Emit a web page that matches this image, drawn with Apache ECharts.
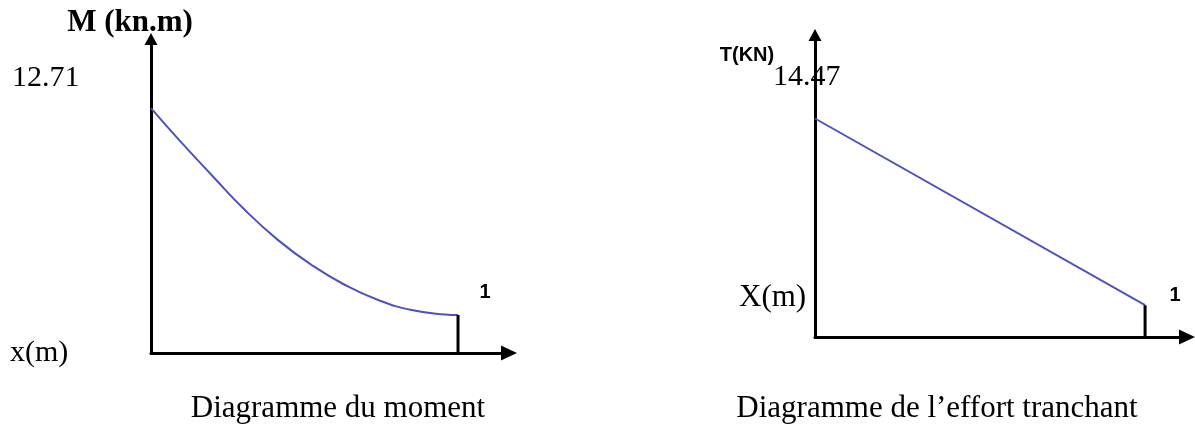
<!DOCTYPE html>
<html>
<head>
<meta charset="utf-8">
<script src="https://cdn.jsdelivr.net/npm/echarts@6/dist/echarts.min.js"></script>
<style>
html,body{margin:0;padding:0;background:#fff;}
#c{width:1195px;height:428px;}
</style>
</head>
<body>
<div id="c"></div>
<script>
// Moment diagram M(x) (kN.m), x in m
var momentX = [0, 0.089, 0.198, 0.306, 0.414, 0.523, 0.632, 0.740, 0.849, 0.958, 1.0];
var momentY = [12.71, 11.10, 9.23, 7.42, 5.86, 4.57, 3.53, 2.75, 2.23, 2.00, 1.97];
// Shear diagram T(x) (kN)
var shearX = [0, 1];
var shearY = [14.47, 2.11];
// Texts
var momentTitle = 'M (kn.m)';
var momentMaxLabel = '12.71';
var momentXLabel = 'x(m)';
var momentCaption = 'Diagramme du moment';
var shearTitle = 'T(KN)';
var shearMaxLabel = '14.47';
var shearXLabel = 'X(m)';
var shearCaption = 'Diagramme de l\u2019effort tranchant';
var endLabel = '1';

function pairs(xs, ys){ return xs.map(function(x,i){ return [x, ys[i]]; }); }

var chart = echarts.init(document.getElementById('c'), null, {renderer:'canvas'});
var axisLine = {show:true, lineStyle:{color:'#000', width:3}, symbol:['none','triangle'], symbolSize:[15,16]};
var axisLineY = {show:true, lineStyle:{color:'#000', width:3}, symbol:['none','triangle'], symbolSize:[13,12]};
function xa(idx, max){
  return {type:'value', gridIndex:idx, min:0, max:max, axisLine:axisLine, axisTick:{show:false}, axisLabel:{show:false}, splitLine:{show:false}};
}
function ya(idx, max){
  return {type:'value', gridIndex:idx, min:0, max:max, axisLine:axisLineY, axisTick:{show:false}, axisLabel:{show:false}, splitLine:{show:false}};
}
var serif = '"Liberation Serif", "Times New Roman", serif';
var sans = '"Liberation Sans", Arial, sans-serif';
function txt(t, x, y, size, family, weight, align){
  return {type:'text', x:x, y:y, silent:true, style:{text:t, font: weight + ' ' + size + 'px ' + family, fill:'#000', textAlign:align, align:align, textVerticalAlign:'middle', verticalAlign:'middle'}};
}
var option = {
  animation:false,
  backgroundColor:'#fff',
  grid:[
    {left:151, top:39, width:358, height:314},
    {left:815, top:35, width:372, height:302}
  ],
  xAxis:[xa(0, 1.166), xa(1, 1.127)],
  yAxis:[ya(0, 16.3), ya(1, 20)],
  series:[
    {type:'line', xAxisIndex:0, yAxisIndex:0, data:pairs(momentX, momentY), smooth:0.5, showSymbol:false, lineStyle:{color:'#4d52bd', width:2}},
    {type:'line', xAxisIndex:0, yAxisIndex:0, data:[[momentX[momentX.length-1],0],[momentX[momentX.length-1], momentY[momentY.length-1]]], showSymbol:false, lineStyle:{color:'#000', width:3}},
    {type:'line', xAxisIndex:1, yAxisIndex:1, data:pairs(shearX, shearY), showSymbol:false, lineStyle:{color:'#4d52bd', width:2}},
    {type:'line', xAxisIndex:1, yAxisIndex:1, data:[[shearX[1],0],[shearX[1], shearY[1]]], showSymbol:false, lineStyle:{color:'#000', width:3}}
  ],
  graphic:[
    txt(momentTitle, 130, 23, 31, serif, 'bold', 'center'),
    txt(momentMaxLabel, 12, 78, 30, serif, 'normal', 'left'),
    txt(momentXLabel, 10, 353, 30, serif, 'normal', 'left'),
    txt(endLabel, 485, 292, 20, sans, 'bold', 'center'),
    txt(momentCaption, 338, 409, 31, serif, 'normal', 'center'),
    txt(shearTitle, 747, 55, 20, sans, 'bold', 'center'),
    txt(shearMaxLabel, 773, 77, 30, serif, 'normal', 'left'),
    txt(shearXLabel, 739, 298, 31, serif, 'normal', 'left'),
    txt(endLabel, 1175, 295, 20, sans, 'bold', 'center'),
    txt(shearCaption, 937, 409, 31, serif, 'normal', 'center')
  ]
};
chart.setOption(option);
</script>
</body>
</html>
